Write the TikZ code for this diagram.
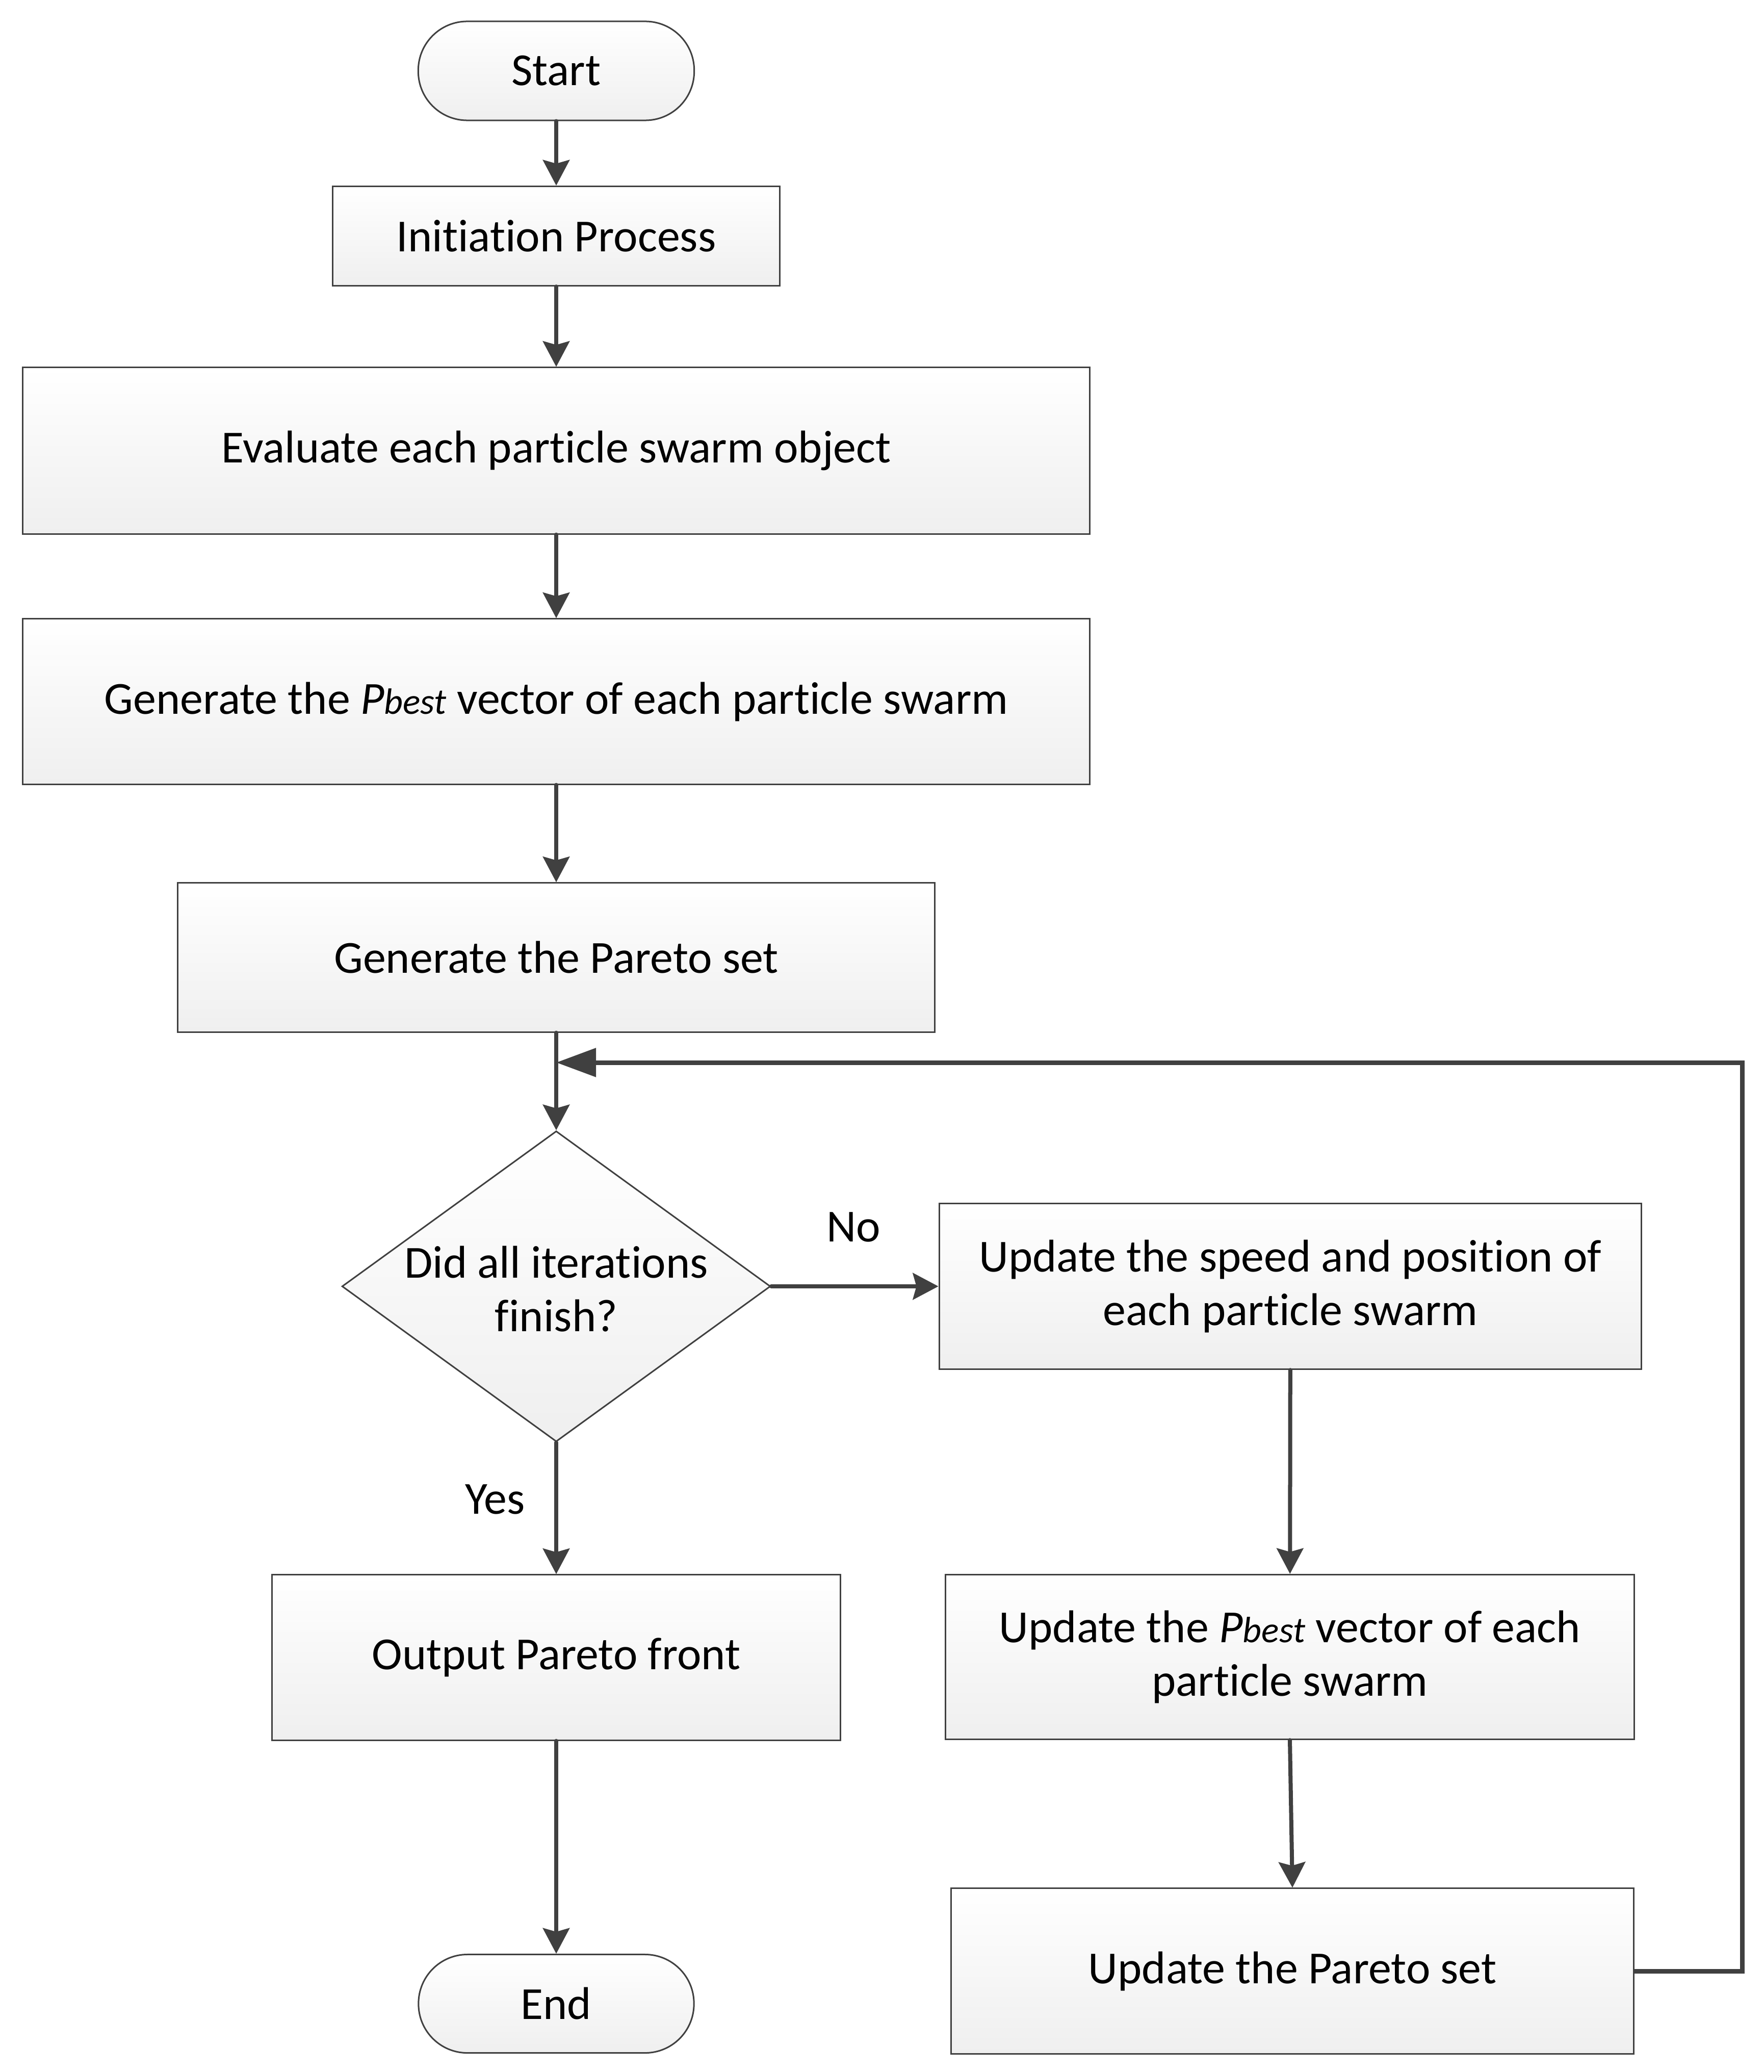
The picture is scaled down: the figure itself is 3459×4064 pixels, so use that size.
\documentclass[tikz,border=0pt]{standalone}
\usepackage{fontspec}
\setmainfont{Carlito}[Ligatures={NoCommon}]
\usetikzlibrary{arrows.meta,shapes.geometric}
\definecolor{ln}{HTML}{404040}
\definecolor{boxbot}{HTML}{EFEFEF}
\newcommand{\mainsize}{\fontsize{25.6pt}{29.6pt}\selectfont}
\newcommand{\bestsize}{\fontsize{20.4pt}{24pt}\selectfont}
\newcommand{\pbest}{\textit{P}{\bestsize\itshape best}}
\tikzset{
  box/.style={draw=ln, line width=0.03cm, top color=white, bottom color=boxbot,
    inner sep=0pt, align=center, font=\mainsize, text=black},
  term/.style={box, rounded corners=0.96cm},
  dia/.style={box, shape=diamond, aspect=1.38},
  lbl/.style={font=\mainsize, inner sep=0pt, text=black},
  conn/.style={draw=ln, line width=0.08cm, line cap=round,
    -{Stealth[length=0.5cm,width=0.52cm,inset=0.07cm]}},
  loopline/.style={draw=ln, line width=0.09cm,
    -{Triangle[length=0.78cm,width=0.55cm]}}
}
\begin{document}
\begin{tikzpicture}[x=0.01cm, y=-0.01cm]
\useasboundingbox (0,0) rectangle (3459,4064);
\node[term, minimum width=5.41cm, minimum height=1.94cm] (start) at (1091,139) {Start};
\node[box, minimum width=8.77cm, minimum height=1.95cm] (init) at (1091,463) {Initiation Process};
\node[box, minimum width=20.91cm, minimum height=3.26cm] (eval) at (1091,884) {Evaluate each particle swarm object};
\node[box, minimum width=20.91cm, minimum height=3.24cm] (gpb) at (1091,1376) {Generate the \pbest{} vector of each particle swarm};
\node[box, minimum width=14.84cm, minimum height=2.92cm] (gps) at (1091,1878) {Generate the Pareto set};
\node[dia, minimum width=8.4cm, minimum height=6.09cm] (dec) at (1091,2523) {};
\node[lbl, align=center] (dect) at ([yshift=-0.05cm]dec.center) {Did all iterations\\finish?};
\node[box, minimum width=13.77cm, minimum height=3.25cm] (spd) at (2531,2523) {Update the speed and position of\\each particle swarm};
\node[box, minimum width=11.14cm, minimum height=3.24cm] (out) at (1091,3251) {Output Pareto front};
\node[box, minimum width=13.5cm, minimum height=3.23cm] (upb) at (2530,3250) {Update the \pbest{} vector of each\\particle swarm};
\node[box, minimum width=13.39cm, minimum height=3.24cm] (ups) at (2535,3866) {Update the Pareto set};
\node[term, minimum width=5.4cm, minimum height=1.93cm] (end) at (1091,3930) {End};
\node[lbl] (no) at (1674,2407) {No};
\node[lbl] (yes) at (971,2941) {Yes};
\coordinate (lc) at (3417,2084);
\coordinate (lm) at (1091,2084);
\draw[conn] (start) -- (init);
\draw[conn] (init) -- (eval);
\draw[conn] (eval) -- (gpb);
\draw[conn] (gpb) -- (gps);
\draw[conn] (gps) -- (dec);
\draw[conn] (dec) -- (spd);
\draw[conn] (dec) -- (out);
\draw[conn] (out) -- (end);
\draw[conn] (spd) -- (upb);
\draw[conn] (upb.south) -- (ups.north);
\draw[loopline] (ups.east) -| (lc) -- (lm);
\end{tikzpicture}
\end{document}
